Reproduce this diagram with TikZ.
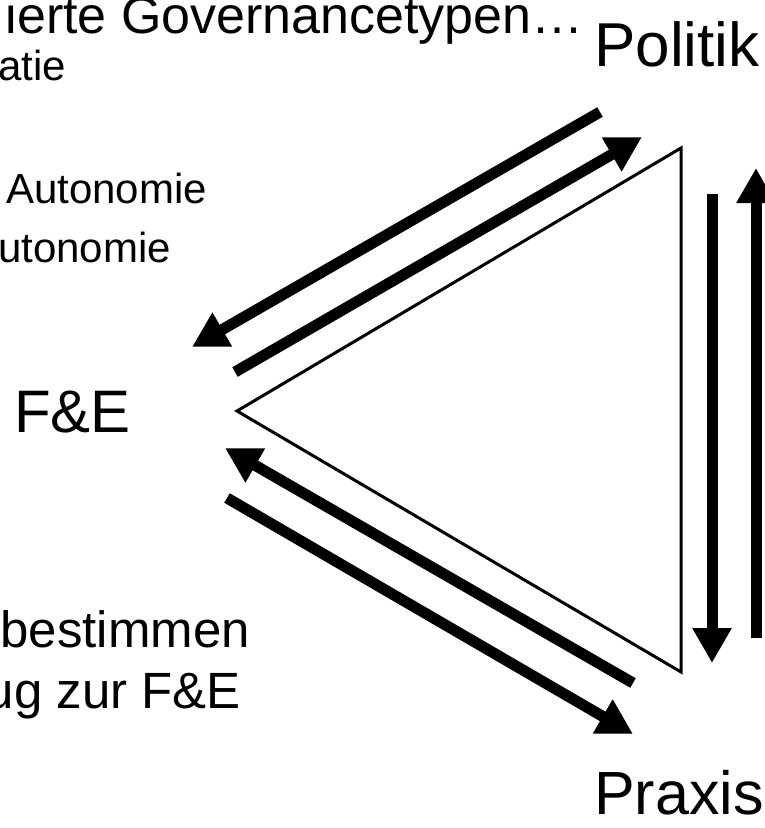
\documentclass[tikz,border=0pt]{standalone}
\usepackage{fontspec}
\setmainfont{Liberation Sans}
\usetikzlibrary{arrows.meta}
\tikzset{
  bigarrow/.style={line width=11pt, -{Triangle[length=35pt 0, width=37pt 0]}},
  tri/.style={line width=3pt, line join=miter},
  lbl/.style={inner sep=0pt, anchor=base east},
  corner/.style={inner sep=0pt, anchor=base west}
}
\newcommand{\fsz}[1]{\fontsize{#1}{#1}\selectfont}
\begin{document}
\begin{tikzpicture}[x=1pt,y=-1pt]
\useasboundingbox (0,0) rectangle (765,828);
% text
\node[lbl] (t1) at (584,33) {\fsz{52}ierte Governancetypen…};
\node[lbl] (t2) at (66,80) {\fsz{42}atie};
\node[lbl] (t3) at (207,203) {\fsz{42}Autonomie};
\node[lbl] (t4) at (171,262) {\fsz{42}utonomie};
\node[lbl] (fe) at (131,432) {\fsz{60}F\&E};
\node[lbl] (t5) at (250,647) {\fsz{51}bestimmen};
\node[lbl] (t6) at (241,708) {\fsz{51}ug zur F\&E};
\node[corner] (pol) at (594,66) {\fsz{62}Politik};
\node[corner] (pra) at (594,814) {\fsz{61}Praxis};
% triangle
\coordinate (v1) at (237,411);
\coordinate (v2) at (681,148);
\coordinate (v3) at (681,672);
\draw[tri] (v1) -- (v2) -- (v3) -- cycle;
% arrow end points
\coordinate (a1s) at (600,112); \coordinate (a1e) at (192,347);
\coordinate (a2s) at (235,372); \coordinate (a2e) at (642,137);
\coordinate (a3s) at (633,683); \coordinate (a3e) at (225,448);
\coordinate (a4s) at (227,498); \coordinate (a4e) at (633,734);
\coordinate (a5s) at (712,194); \coordinate (a5e) at (712,663);
\coordinate (a6s) at (756,638); \coordinate (a6e) at (756,168);
\draw[bigarrow] (a1s) -- (a1e);
\draw[bigarrow] (a2s) -- (a2e);
\draw[bigarrow] (a3s) -- (a3e);
\draw[bigarrow] (a4s) -- (a4e);
\draw[bigarrow] (a5s) -- (a5e);
\draw[bigarrow] (a6s) -- (a6e);
\end{tikzpicture}
\end{document}
